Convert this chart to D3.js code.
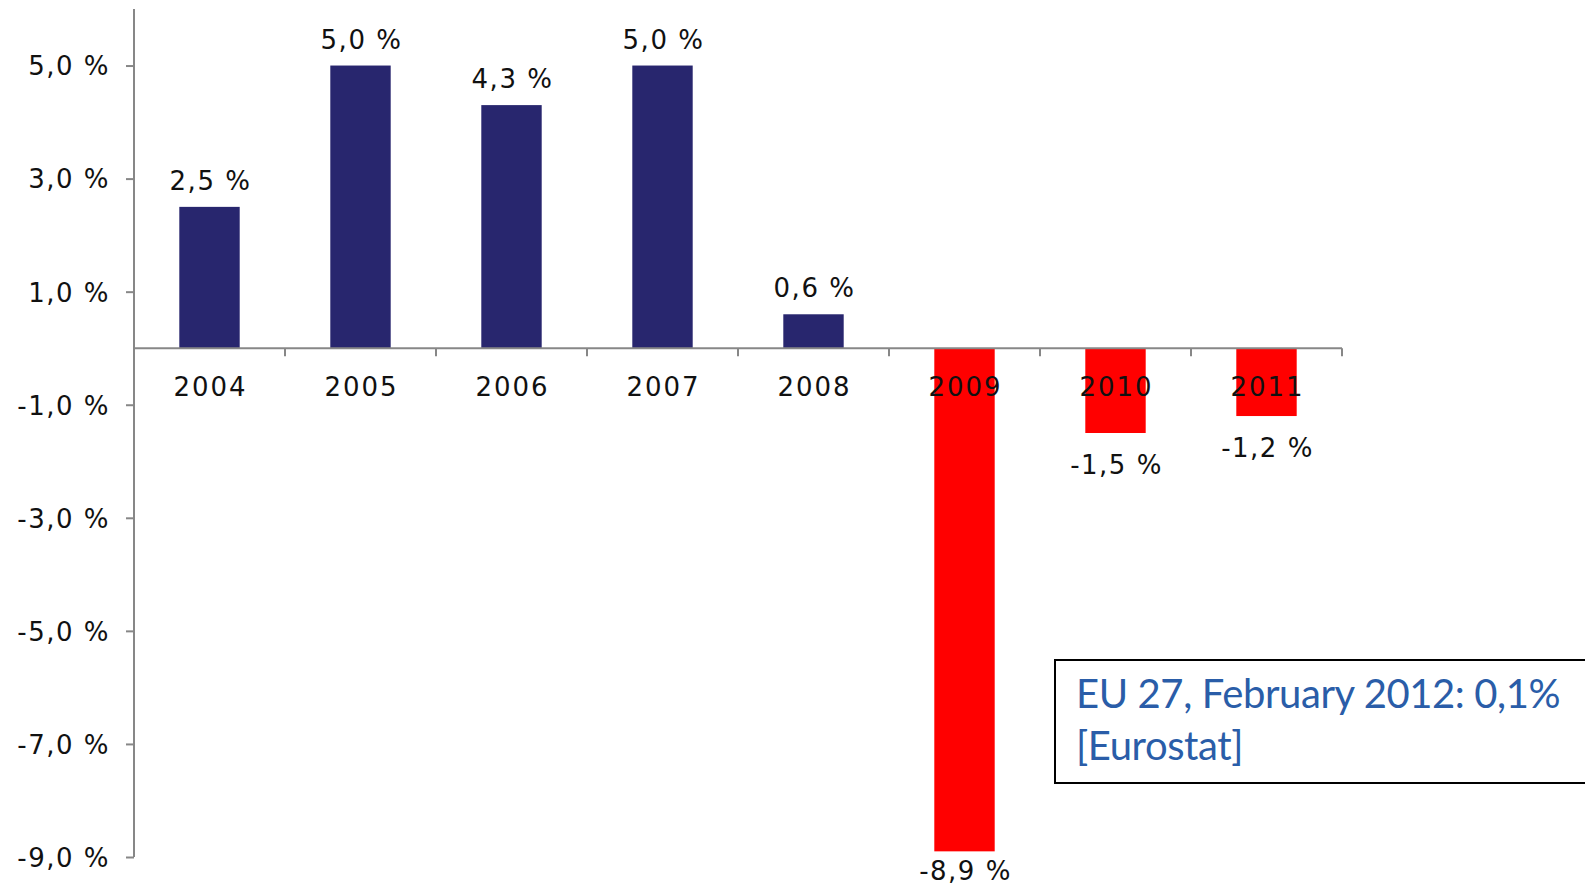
<!DOCTYPE html>
<html>
<head>
<meta charset="utf-8">
<script src="https://cdn.jsdelivr.net/npm/d3@7"></script>
<style>
  html, body { margin: 0; padding: 0; background: #fff; }
  svg { display: block; }
</style>
</head>
<body>
<svg id="chart" width="1585" height="885"></svg>
<script>
// growth rates per year
var years = ["2004", "2005", "2006", "2007", "2008", "2009", "2010", "2011"];
var growth = [2.5, 5.0, 4.3, 5.0, 0.6, -8.9, -1.5, -1.2];
var yTicks = [5, 3, 1, -1, -3, -5, -7, -9];
var noteLines = ["EU 27, February 2012: 0,1%", "[Eurostat]"];

var data = years.map(function(y, i) { return {year: y, value: growth[i]}; });

var svg = d3.select("#chart"),
    width = +svg.attr("width"),
    height = +svg.attr("height");

var plotLeft = 134, plotRight = 1342, plotTop = 9, plotBottom = 857;

var de = d3.formatLocale({decimal: ",", thousands: ".", grouping: [3], currency: ["", " €"], minus: "-"});
var fmt = function(d) { return de.format(".1f")(d) + " %"; };

var x = d3.scaleBand()
    .domain(years)
    .range([plotLeft, plotRight])
    .paddingInner(0.6)
    .paddingOuter(0.3);

var y = d3.scaleLinear()
    .domain([-9, 6])
    .range([plotBottom, plotTop]);

var font = "'DejaVu Sans', sans-serif";

// bars
svg.append("g")
  .selectAll("rect")
  .data(data)
  .enter().append("rect")
    .attr("x", function(d) { return x(d.year); })
    .attr("width", x.bandwidth())
    .attr("y", function(d) { return y(Math.max(0, d.value)); })
    .attr("height", function(d) { return Math.abs(y(d.value) - y(0)); })
    .attr("fill", function(d) { return d.value < 0 ? "#ff0000" : "#28266e"; });

// y axis
var yAxis = svg.append("g")
    .attr("transform", "translate(" + plotLeft + ",0)")
    .call(d3.axisLeft(y).tickValues(yTicks).tickSize(8).tickPadding(16).tickFormat(fmt));
yAxis.select(".domain").attr("stroke", "#878787").attr("stroke-width", 2).attr("d", "M0," + plotTop + "V" + plotBottom);
yAxis.selectAll(".tick line").attr("stroke", "#878787").attr("stroke-width", 2);
yAxis.selectAll(".tick text")
    .attr("font-family", font)
    .attr("font-size", 26)
    .attr("letter-spacing", "1.5px")
    .attr("fill", "#111")
    .attr("dy", "0.36em");

// x axis at zero with ticks between categories
var xAxis = svg.append("g");
xAxis.append("line")
    .attr("x1", plotLeft).attr("x2", plotRight)
    .attr("y1", y(0)).attr("y2", y(0))
    .attr("stroke", "#878787").attr("stroke-width", 2);
xAxis.selectAll(".sep")
  .data(years)
  .enter().append("line")
    .attr("class", "sep")
    .attr("x1", function(d) { return x(d) + x.bandwidth() + x.step() * 0.3; })
    .attr("x2", function(d) { return x(d) + x.bandwidth() + x.step() * 0.3; })
    .attr("y1", y(0)).attr("y2", y(0) + 8)
    .attr("stroke", "#878787").attr("stroke-width", 2);
xAxis.selectAll(".cat")
  .data(years)
  .enter().append("text")
    .attr("class", "cat")
    .attr("x", function(d) { return x(d) + x.bandwidth() / 2 + 1; })
    .attr("y", y(0) + 48)
    .attr("text-anchor", "middle")
    .attr("font-family", font)
    .attr("font-size", 26)
    .attr("letter-spacing", "2px")
    .attr("fill", "#111")
    .text(function(d) { return d; });

// value labels
svg.append("g")
  .selectAll("text")
  .data(data)
  .enter().append("text")
    .attr("x", function(d) { return x(d.year) + x.bandwidth() / 2 + 1; })
    .attr("y", function(d) {
      return d.value >= 0 ? y(d.value) - 17 : Math.min(y(d.value) + 41, height - 5);
    })
    .attr("text-anchor", "middle")
    .attr("font-family", font)
    .attr("font-size", 26)
    .attr("letter-spacing", "1.5px")
    .attr("fill", "#111")
    .text(function(d) { return fmt(d.value); });

// note box
var note = svg.append("g");
note.append("rect")
    .attr("x", 1055).attr("y", 660)
    .attr("width", 560).attr("height", 123)
    .attr("fill", "#fff")
    .attr("stroke", "#000")
    .attr("stroke-width", 2);
note.selectAll("text")
  .data(noteLines)
  .enter().append("text")
    .attr("x", 1076)
    .attr("y", function(d, i) { return 708 + i * 52; })
    .attr("font-family", "Lato, sans-serif")
    .attr("font-size", 40)
    .attr("letter-spacing", "-0.4px")
    .attr("fill", "#2a5da8")
    .text(function(d) { return d; });
</script>
</body>
</html>
